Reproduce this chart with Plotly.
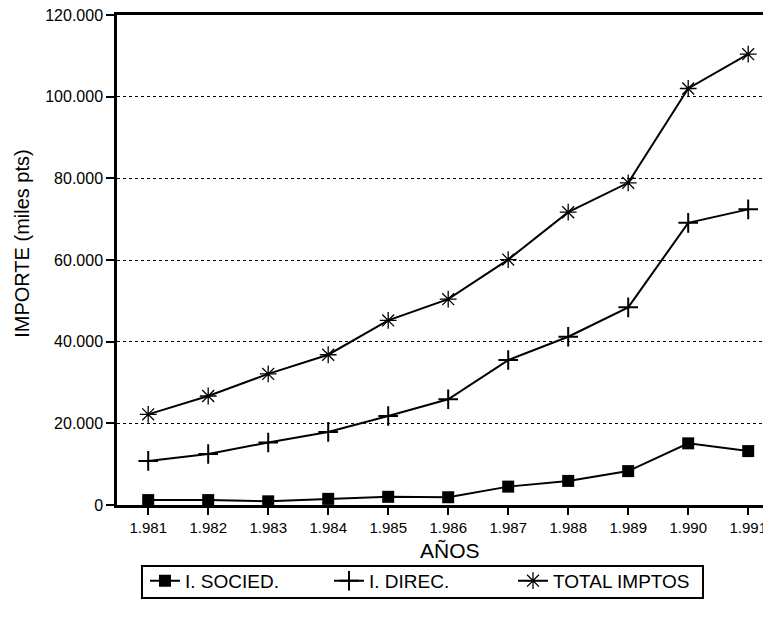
import plotly.graph_objects as go

years = [1981, 1982, 1983, 1984, 1985, 1986, 1987, 1988, 1989, 1990, 1991]
year_labels = ["1.981", "1.982", "1.983", "1.984", "1.985", "1.986",
               "1.987", "1.988", "1.989", "1.990", "1.991"]
socied = [1200, 1200, 900, 1500, 2000, 1900, 4500, 5900, 8300, 15100, 13200]
direc = [10800, 12500, 15300, 17900, 21800, 25900, 35500, 41200, 48400, 69100, 72400]
total = [22200, 26700, 32100, 36800, 45200, 50400, 60100, 71700, 78900, 102000, 110400]
y_ticks = [0, 20000, 40000, 60000, 80000, 100000, 120000]
y_tick_labels = ["0", "20.000", "40.000", "60.000", "80.000", "100.000", "120.000"]

FONT = "Liberation Sans, Arial, Helvetica, sans-serif"

fig = go.Figure()
fig.add_trace(go.Scatter(
    x=years, y=socied, name="I. SOCIED.", mode="lines+markers",
    line=dict(color="black", width=2),
    marker=dict(symbol="square", size=12, color="black"),
))
fig.add_trace(go.Scatter(
    x=years, y=direc, name="I. DIREC.", mode="lines+markers",
    line=dict(color="black", width=2),
    marker=dict(symbol="cross-thin-open", size=14, color="black",
                line=dict(color="black", width=2)),
))
fig.add_trace(go.Scatter(
    x=years, y=total, name="TOTAL IMPTOS", mode="lines+markers",
    line=dict(color="black", width=2),
    marker=dict(symbol="asterisk-open", size=14, color="black",
                line=dict(color="black", width=1.3)),
))

# legend frame
fig.add_shape(type="rect", xref="paper", yref="paper",
              x0=0.0382, x1=0.896, y0=-0.1898, y1=-0.1245,
              line=dict(color="black", width=2), fillcolor="rgba(0,0,0,0)")

# axis titles as annotations
fig.add_annotation(text="IMPORTE (miles pts)", xref="paper", yref="paper",
                   x=0, y=0.533, xshift=-95, textangle=-90, showarrow=False,
                   xanchor="center", yanchor="middle",
                   font=dict(family=FONT, size=20, color="black"))
fig.add_annotation(text="AÑOS", xref="paper", yref="paper",
                   x=0.509, y=-0.092, showarrow=False,
                   xanchor="center", yanchor="middle",
                   font=dict(family=FONT, size=21, color="black"))

fig.update_layout(
    width=771, height=625,
    margin=dict(l=109, r=8, t=7, b=128),
    paper_bgcolor="white", plot_bgcolor="white",
    font=dict(family=FONT, color="black", size=15),
    showlegend=True,
    legend=dict(
        orientation="h", x=0.0428, y=-0.116, xanchor="left", yanchor="top",
        borderwidth=0, bgcolor="rgba(0,0,0,0)",
        font=dict(family=FONT, size=19, color="black"),
        entrywidth=139, entrywidthmode="pixels",
        itemwidth=30,
    ),
    xaxis=dict(
        range=[1980.48, 1991.38],
        tickvals=years, ticktext=year_labels,
        showgrid=False, zeroline=False, automargin=False,
        ticklabeloverflow="allow",
        showline=True, linecolor="black", linewidth=2.5, mirror=True,
        ticks="outside", ticklen=7, tickcolor="black", tickwidth=2,
        tickfont=dict(family=FONT, size=15, color="black"),
    ),
    yaxis=dict(
        range=[0, 120000],
        tickvals=y_ticks, ticktext=y_tick_labels,
        showgrid=True, gridcolor="black", gridwidth=1, griddash="dot",
        zeroline=False, automargin=False,
        ticklabeloverflow="allow",
        showline=True, linecolor="black", linewidth=2.5,
        ticks="outside", ticklen=8, tickcolor="black", tickwidth=2,
        tickfont=dict(family=FONT, size=16, color="black"),
    ),
)

fig.write_html("out.html")
